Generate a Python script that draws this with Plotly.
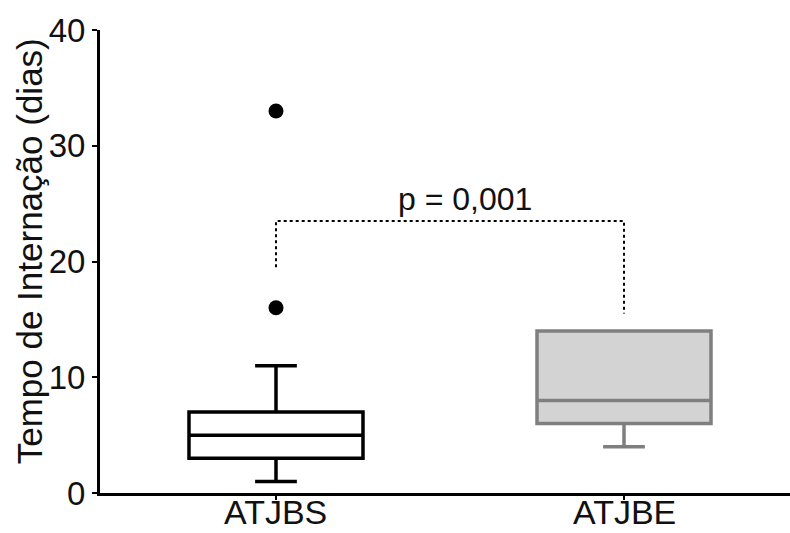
import plotly.graph_objects as go

categories = ["ATJBS", "ATJBE"]
cat_pos = [0, 1]
q1 = [3, 6]
median = [5, 8]
q3 = [7, 14]
lower_fence = [1, 4]
upper_fence = [11, 14]
outlier_x = [0, 0]
outlier_y = [16, 33]
bracket_x = [0, 0, 1, 1]
bracket_y = [19.5, 23.5, 23.5, 15.5]
p_label = "p = 0,001"
p_pos = (0.543, 25.4)
y_ticks = [0, 10, 20, 30, 40]

line_colors = ["#000000", "#7f7f7f"]
fill_colors = ["#ffffff", "#d3d3d3"]
FONT = "Liberation Sans, Arial"

fig = go.Figure()
for i in range(len(categories)):
    fig.add_trace(go.Box(
        x=[cat_pos[i]], q1=[q1[i]], median=[median[i]], q3=[q3[i]],
        lowerfence=[lower_fence[i]], upperfence=[upper_fence[i]],
        width=0.5, whiskerwidth=0.24,
        line=dict(color=line_colors[i], width=3.5),
        fillcolor=fill_colors[i], boxpoints=False, showlegend=False,
        hoverinfo="skip"))

fig.add_trace(go.Scatter(x=outlier_x, y=outlier_y, mode="markers",
                         marker=dict(color="black", size=15),
                         showlegend=False, hoverinfo="skip"))
fig.add_trace(go.Scatter(x=bracket_x, y=bracket_y, mode="lines",
                         line=dict(color="black", width=2, dash="dot"),
                         showlegend=False, hoverinfo="skip"))

fig.add_annotation(x=p_pos[0], y=p_pos[1], text=p_label, showarrow=False,
                   xanchor="center", yanchor="middle",
                   font=dict(family=FONT, size=32, color="#111"))

fig.add_annotation(xref="paper", yref="paper", x=(29 - 100) / 690, y=0.522,
                   text="Tempo de Internação (dias)", textangle=-90,
                   showarrow=False, xanchor="center", yanchor="middle",
                   font=dict(family=FONT, size=35, color="#111"))

for pos, lab in zip(cat_pos, categories):
    fig.add_annotation(x=pos, xref="x", yref="paper", y=-40 / 463,
                       text=lab, showarrow=False, xanchor="center",
                       yanchor="bottom", yshift=0,
                       font=dict(family=FONT, size=34, color="#111"))

fig.update_layout(
    width=790, height=533,
    margin=dict(l=100, r=0, t=30, b=40, autoexpand=False),
    plot_bgcolor="white", paper_bgcolor="white",
    font=dict(family=FONT, color="#111"),
    xaxis=dict(range=[-0.5057, 1.477], tickvals=cat_pos, ticktext=["", ""],
               showgrid=False, zeroline=False, showline=True, linecolor="black",
               linewidth=3, ticks="outside", ticklen=4, tickwidth=2,
               tickcolor="black"),
    yaxis=dict(range=[0, 40], tickvals=y_ticks, showgrid=False, zeroline=False,
               showline=True, linecolor="black", linewidth=3, ticks="outside",
               ticklen=5, tickwidth=2, tickcolor="black",
               tickfont=dict(size=33)),
)

fig.write_html("out.html")
